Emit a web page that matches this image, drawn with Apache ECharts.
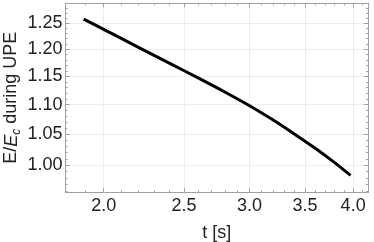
<!DOCTYPE html>
<html><head><meta charset="utf-8">
<script src="https://cdn.jsdelivr.net/npm/echarts@6/dist/echarts.min.js"></script>
<style>html,body{margin:0;padding:0;background:#fff}#c{width:374px;height:242px}</style>
</head><body><div id="c"></div>
<script>
const tValues = [1.892, 2.0, 2.2, 2.4, 2.6, 2.8, 3.0, 3.2, 3.4, 3.6, 3.8, 3.971];
const eRatio  = [1.258, 1.238, 1.204, 1.174, 1.147, 1.122, 1.098, 1.074, 1.050, 1.027, 1.004, 0.984];
const xMajorTicks = [2.0, 2.5, 3.0, 3.5, 4.0];
const xMinorTicks = [1.9, 2.1, 2.2, 2.3, 2.4, 2.6, 2.7, 2.8, 2.9, 3.1, 3.2, 3.3, 3.4, 3.6, 3.7, 3.8, 3.9, 4.1];
const yMajorTicks = [1.00, 1.05, 1.10, 1.15, 1.20, 1.25];
const yMinorTicks = [0.96, 0.97, 0.98, 0.99, 1.01, 1.02, 1.03, 1.04, 1.06, 1.07, 1.08, 1.09, 1.11, 1.12, 1.13, 1.14, 1.16, 1.17, 1.18, 1.19, 1.21, 1.22, 1.23, 1.24, 1.26, 1.27, 1.28, 1.29];
const xName = 't [s]';

const X_MIN = Math.pow(10, 0.255), X_MAX = Math.pow(10, 0.620);
const Y_MIN = Math.pow(10, -0.0185), Y_MAX = Math.pow(10, 0.1105);
const frame = '#a0a0a0';
const FONT = 'Liberation Sans, Arial, sans-serif';

function xAx(pos, ticks, len, labels, grid) {
  return {
    type: 'log', logBase: 10, position: pos, min: X_MIN, max: X_MAX, splitNumber: 73,
    axisLine: { show: true, lineStyle: { color: frame, width: 1 } },
    axisTick: { show: true, inside: true, length: len, customValues: ticks, lineStyle: { color: frame } },
    axisLabel: labels ? { show: true, customValues: ticks, margin: 5, color: '#222', fontSize: 18, fontFamily: FONT,
      formatter: v => Number(v).toFixed(1) } : { show: false },
    splitLine: { show: !!grid, lineStyle: { color: '#d9d9d9', type: 'dotted', width: 1 } },
    minorTick: { show: false }, minorSplitLine: { show: false }
  };
}
function yAx(pos, ticks, len, labels, grid) {
  return {
    type: 'log', logBase: 10, position: pos, min: Y_MIN, max: Y_MAX, splitNumber: 258,
    axisLine: { show: true, lineStyle: { color: frame, width: 1 } },
    axisTick: { show: true, inside: true, length: len, customValues: ticks, lineStyle: { color: frame } },
    axisLabel: labels ? { show: true, customValues: ticks, margin: 3, color: '#222', fontSize: 18, fontFamily: FONT,
      formatter: v => Number(v).toFixed(2) } : { show: false },
    splitLine: { show: !!grid, lineStyle: { color: '#d9d9d9', type: 'dotted', width: 1 } },
    minorTick: { show: false }, minorSplitLine: { show: false }
  };
}

const xAxes = [
  Object.assign(xAx('bottom', xMajorTicks, 4, true, true), {
    name: xName, nameLocation: 'middle', nameGap: 32, nameMoveOverlap: false,
    nameTextStyle: { color: '#222', fontSize: 18, fontFamily: FONT }
  }),
  xAx('bottom', xMinorTicks, 2, false, false),
  xAx('top', xMajorTicks, 4, false, false),
  xAx('top', xMinorTicks, 2, false, false)
];
const yAxes = [
  Object.assign(yAx('left', yMajorTicks, 4, true, true), {
    name: '{n|E/}{i|E}{s|c}{n| during UPE}', nameLocation: 'middle', nameGap: 43, nameMoveOverlap: false,
    nameTextStyle: {
      color: '#222', fontFamily: FONT, fontSize: 18,
      rich: {
        n: { fontSize: 18, fontFamily: FONT, color: '#222', lineHeight: 22 },
        i: { fontSize: 18, fontFamily: FONT, color: '#222', fontStyle: 'italic', lineHeight: 22 },
        s: { fontSize: 12, fontFamily: FONT, color: '#222', fontStyle: 'italic', lineHeight: 22, verticalAlign: 'bottom' }
      }
    }
  }),
  yAx('left', yMinorTicks, 2, false, false),
  yAx('right', yMajorTicks, 4, false, false),
  yAx('right', yMinorTicks, 2, false, false)
];

const chart = echarts.init(document.getElementById('c'), null, { renderer: 'canvas' });
chart.setOption({
  animation: false,
  backgroundColor: '#fff',
  grid: { left: 65.5, right: 6, top: 3.3, bottom: 49.7, containLabel: false, outerBoundsMode: 'none' },
  xAxis: xAxes,
  yAxis: yAxes,
  series: [{
    type: 'line', xAxisIndex: 0, yAxisIndex: 0,
    data: tValues.map((t, i) => [t, eRatio[i]]),
    smooth: 0.3, showSymbol: false,
    lineStyle: { color: '#000', width: 3, cap: 'butt' }
  }]
});
</script></body></html>
